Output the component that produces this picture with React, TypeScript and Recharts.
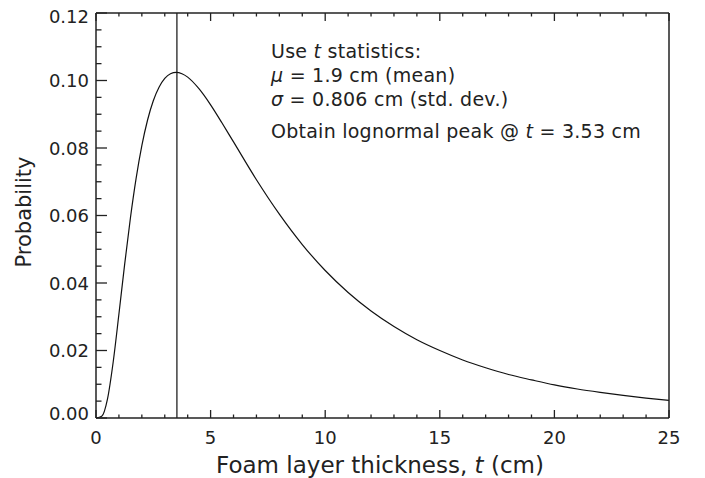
import { LineChart, Line, XAxis, YAxis, ReferenceLine } from "recharts"

// foam layer thickness t (cm) and lognormal probability
const thickness = [
  0, 0.25, 0.5, 0.75, 1, 1.25, 1.5, 1.75, 2, 2.25, 2.5, 2.75, 3, 3.25, 3.5,
  3.75, 4, 4.5, 5, 5.5, 6, 7, 8, 9, 10, 11, 12, 13, 14, 15, 16, 17, 18, 19,
  20, 21, 22, 23, 24, 25
]
const probability = [
  0, 0.0005, 0.0056, 0.0166, 0.0308, 0.0455, 0.0592, 0.071, 0.0807, 0.0883,
  0.094, 0.098, 0.1006, 0.102, 0.1024, 0.102, 0.101, 0.0975, 0.0928, 0.0874,
  0.0818, 0.0706, 0.0604, 0.0514, 0.0437, 0.0372, 0.0317, 0.0271, 0.0232,
  0.02, 0.0172, 0.0149, 0.0129, 0.0113, 0.0098, 0.0086, 0.0076, 0.0067,
  0.0059, 0.0052
]
const peakT = 3.53

const xMajor = [0, 5, 10, 15, 20, 25]
const xMinor = [1, 2, 3, 4, 6, 7, 8, 9, 11, 12, 13, 14, 16, 17, 18, 19, 21, 22, 23, 24]
const yMajor = [0, 0.02, 0.04, 0.06, 0.08, 0.1, 0.12]
const yMinor = [
  0.005, 0.01, 0.015, 0.025, 0.03, 0.035, 0.045, 0.05, 0.055, 0.065, 0.07,
  0.075, 0.085, 0.09, 0.095, 0.105, 0.11, 0.115
]
const yLabels = ["0.00", "0.02", "0.04", "0.06", "0.08", "0.10", "0.12"]

const data = thickness.map((t, i) => ({ t, p: probability[i] }))
const xTicks = [...xMajor, ...xMinor].sort((a, b) => a - b)
const yTicks = [...yMajor, ...yMinor].sort((a, b) => a - b)

const INK = "#222"
const FONT = "'DejaVu Sans', sans-serif"

function BottomTick({ x, y, payload }: any) {
  const major = xMajor.includes(payload.value)
  return (
    <g>
      <line x1={x} y1={y} x2={x} y2={y - (major ? 8 : 3.5)} stroke={INK} strokeWidth={1.3} />
      {major && (
        <text x={x} y={y + 26} textAnchor="middle" fontSize={18} fill={INK} fontFamily={FONT}>
          {payload.value}
        </text>
      )}
    </g>
  )
}

function TopTick({ x, y, payload }: any) {
  const major = xMajor.includes(payload.value)
  return <line x1={x} y1={y} x2={x} y2={y + (major ? 8 : 3.5)} stroke={INK} strokeWidth={1.3} />
}

function LeftTick({ x, y, payload }: any) {
  const idx = yMajor.indexOf(payload.value)
  const major = idx >= 0
  // end labels are nudged inside the frame
  const shift = idx === 0 ? -5 : idx === yMajor.length - 1 ? 3 : 0
  return (
    <g>
      <line x1={x} y1={y} x2={x + (major ? 11 : 5.5)} y2={y} stroke={INK} strokeWidth={1.3} />
      {major && (
        <text x={x - 7} y={y + shift + 6.5} textAnchor="end" fontSize={18} fill={INK} fontFamily={FONT}>
          {yLabels[idx]}
        </text>
      )}
    </g>
  )
}

function RightTick({ x, y, payload }: any) {
  const major = yMajor.includes(payload.value)
  return <line x1={x} y1={y} x2={x - (major ? 11 : 5.5)} y2={y} stroke={INK} strokeWidth={1.3} />
}

export default function App() {
  return (
    <div style={{ position: "absolute", left: 0, top: 0, width: 705, height: 478, background: "#fff" }}>
      <LineChart
        width={705}
        height={478}
        data={data}
        margin={{ top: 11, right: 34, bottom: 0, left: 0 }}
      >
        <XAxis
          xAxisId="bottom"
          dataKey="t"
          type="number"
          domain={[0, 25]}
          ticks={xTicks}
          interval={0}
          height={60}
          tickSize={0}
          tickMargin={0}
          tickLine={false}
          tick={BottomTick}
          axisLine={{ stroke: INK, strokeWidth: 1.5 }}
        />
        <XAxis
          xAxisId="top"
          orientation="top"
          dataKey="t"
          type="number"
          domain={[0, 25]}
          ticks={xTicks}
          interval={0}
          height={2}
          tickSize={0}
          tickMargin={0}
          tickLine={false}
          tick={TopTick}
          axisLine={{ stroke: INK, strokeWidth: 1.5 }}
        />
        <YAxis
          yAxisId="left"
          type="number"
          domain={[0, 0.12]}
          ticks={yTicks}
          interval={0}
          width={96}
          tickSize={0}
          tickMargin={0}
          tickLine={false}
          tick={LeftTick}
          axisLine={{ stroke: INK, strokeWidth: 1.5 }}
        />
        <YAxis
          yAxisId="right"
          orientation="right"
          type="number"
          domain={[0, 0.12]}
          ticks={yTicks}
          interval={0}
          width={2}
          tickSize={0}
          tickMargin={0}
          tickLine={false}
          tick={RightTick}
          axisLine={{ stroke: INK, strokeWidth: 1.5 }}
        />
        <ReferenceLine
          xAxisId="bottom"
          yAxisId="left"
          x={peakT}
          stroke={INK}
          strokeWidth={1.3}
        />
        <Line
          xAxisId="bottom"
          yAxisId="left"
          type="monotone"
          dataKey="p"
          stroke="#111"
          strokeWidth={1.2}
          dot={false}
          isAnimationActive={false}
        />
      </LineChart>

      <svg
        width={705}
        height={478}
        style={{ position: "absolute", left: 0, top: 0, pointerEvents: "none" }}
        fontFamily={FONT}
        fill={INK}
      >
        <g fontSize={19} letterSpacing={0.25}>
          <text x={271} y={58}>
            Use <tspan fontStyle="italic">t</tspan> statistics:
          </text>
          <text x={271} y={82}>
            <tspan fontStyle="italic">μ</tspan> = 1.9 cm (mean)
          </text>
          <text x={271} y={106}>
            <tspan fontStyle="italic">σ</tspan> = 0.806 cm (std. dev.)
          </text>
          <text x={271} y={138}>
            Obtain lognormal peak @ <tspan fontStyle="italic">t</tspan> = 3.53 cm
          </text>
        </g>
        <text x={380} y={473} textAnchor="middle" fontSize={23}>
          Foam layer thickness, <tspan fontStyle="italic">t</tspan> (cm)
        </text>
        <text x={31} y={212} textAnchor="middle" fontSize={21} transform="rotate(-90 31 212)">
          Probability
        </text>
      </svg>
    </div>
  )
}
